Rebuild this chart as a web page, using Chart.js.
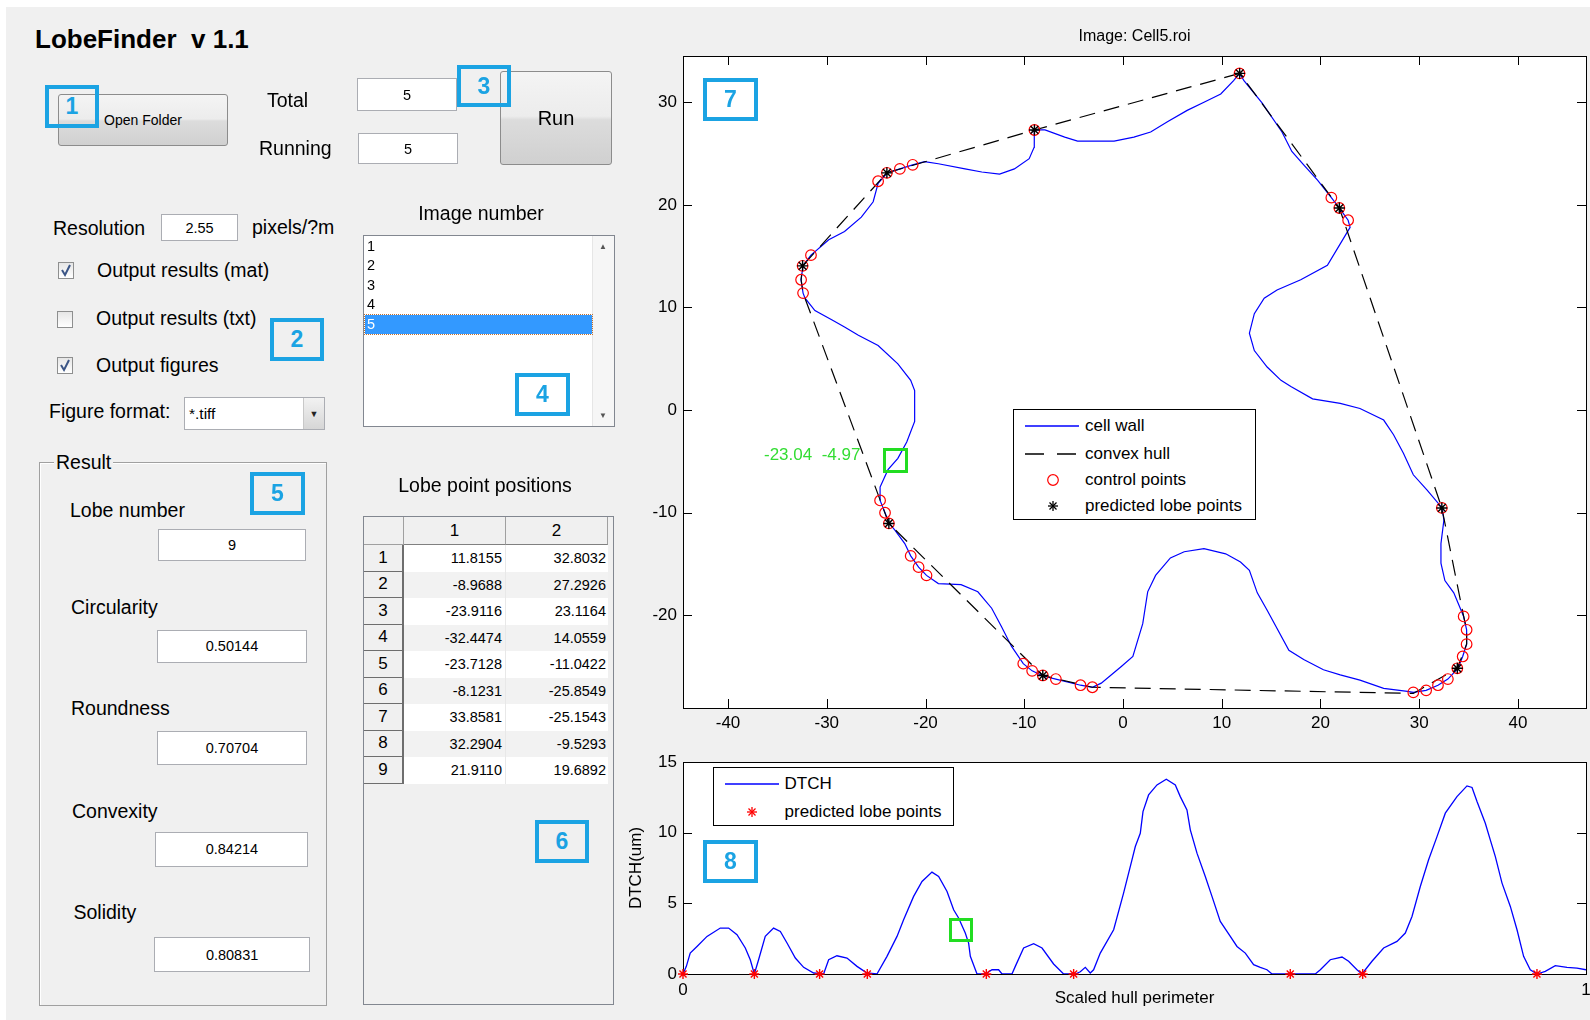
<!DOCTYPE html>
<html><head><meta charset="utf-8">
<script src="https://cdn.jsdelivr.net/npm/chart.js@4.4.1/dist/chart.umd.min.js"></script>
<style>
html,body{margin:0;padding:0;width:1590px;height:1020px;overflow:hidden;background:#fff;font-family:'Liberation Sans',Arial,sans-serif;}
#panel{position:absolute;left:6px;top:7px;width:1584px;height:1013px;background:#f0f0f0;}
.t{position:absolute;white-space:nowrap;font-size:19.5px;line-height:20px;height:20px;color:#000;z-index:3;}
.tc{text-align:center;width:240px;}
.inp{position:absolute;background:#fff;border:1px solid #abadb3;box-sizing:border-box;font-size:14.5px;display:flex;align-items:center;justify-content:center;z-index:3;}
.bx{position:absolute;box-sizing:border-box;border:4px solid #1ba3e3;color:#1ba3e3;font-weight:bold;font-size:23px;display:flex;align-items:center;justify-content:center;z-index:6;}
.cb{position:absolute;width:16px;height:17px;box-sizing:border-box;border:1px solid #8e8f8f;background:linear-gradient(#e6e6e6,#fff);z-index:3;}
.btn{position:absolute;box-sizing:border-box;border:1px solid #8c8c8c;border-radius:3px;background:linear-gradient(#f4f4f4 0%,#ececec 48%,#dcdcdc 52%,#d0d0d0 100%);display:flex;align-items:center;justify-content:center;z-index:3;}
.cv{position:absolute;z-index:1;}
.leg{position:absolute;background:#fff;border:1px solid #000;box-sizing:border-box;z-index:4;}
.leg .lt{position:absolute;font-size:17px;line-height:20px;height:20px;white-space:nowrap;}
.leg svg{position:absolute;}
.grn{position:absolute;box-sizing:border-box;border:3px solid #22dd22;z-index:6;}
.cell{position:absolute;box-sizing:border-box;font-size:14.5px;display:flex;align-items:center;}
</style></head>
<body>
<div id="panel"></div>

<!-- GUI -->
<div class="t" style="left:35px;top:24px;font-size:26px;line-height:30px;height:30px;font-weight:bold;">LobeFinder&nbsp; v 1.1</div>
<div class="btn" style="left:58px;top:94px;width:170px;height:52px;font-size:14px;">Open Folder</div>
<div class="bx" style="left:45px;top:85px;width:54px;height:43px;">1</div>
<div class="t" style="left:267px;top:90px;">Total</div>
<div class="inp" style="left:357px;top:78px;width:100px;height:33px;">5</div>
<div class="t" style="left:259px;top:138px;">Running</div>
<div class="inp" style="left:358px;top:133px;width:100px;height:31px;">5</div>
<div class="bx" style="left:457px;top:65px;width:54px;height:42px;">3</div>
<div class="btn" style="left:500px;top:71px;width:112px;height:94px;font-size:20px;">Run</div>

<div class="t" style="left:53px;top:218px;">Resolution</div>
<div class="inp" style="left:161px;top:214px;width:77px;height:27px;">2.55</div>
<div class="t" style="left:252px;top:217px;">pixels/?m</div>
<div class="cb" style="left:58px;top:262px;"><svg width="14" height="15" style="position:absolute;left:0;top:0"><path d="M3 7 L6 12 L11 2" stroke="#3b5586" stroke-width="2" fill="none"/></svg></div>
<div class="t" style="left:97px;top:260px;">Output results (mat)</div>
<div class="cb" style="left:57px;top:311px;"></div>
<div class="t" style="left:96px;top:308px;">Output results (txt)</div>
<div class="bx" style="left:270px;top:318px;width:54px;height:43px;">2</div>
<div class="cb" style="left:57px;top:357px;"><svg width="14" height="15" style="position:absolute;left:0;top:0"><path d="M3 7 L6 12 L11 2" stroke="#3b5586" stroke-width="2" fill="none"/></svg></div>
<div class="t" style="left:96px;top:355px;">Output figures</div>
<div class="t" style="left:49px;top:401px;">Figure format:</div>
<div class="inp" style="left:184px;top:397px;width:141px;height:33px;justify-content:flex-start;padding-left:4px;font-size:15.5px;">*.tiff
  <div style="position:absolute;right:0;top:0;width:20px;height:31px;background:linear-gradient(#f2f2f2,#d6d6d6);border-left:1px solid #c8c8c8;font-size:9px;display:flex;align-items:center;justify-content:center;color:#222;">&#9660;</div>
</div>

<div class="t tc" style="left:361px;top:203px;">Image number</div>
<div id="listbox" style="position:absolute;left:363px;top:235px;width:252px;height:192px;box-sizing:border-box;border:1px solid #828790;background:#fff;z-index:3;">
  <div style="position:absolute;right:0;top:0;width:21px;height:190px;background:#f6f6f6;border-left:1px solid #e6e6e6;">
    <div style="position:absolute;left:6px;top:6px;font-size:8px;color:#555;">&#9650;</div>
    <div style="position:absolute;left:6px;bottom:6px;font-size:8px;color:#555;">&#9660;</div>
  </div>
</div>
<div class="bx" style="left:515px;top:373px;width:55px;height:43px;">4</div>

<!-- Result group -->
<div style="position:absolute;left:39px;top:462px;width:288px;height:544px;box-sizing:border-box;border:1px solid #a0a0a0;box-shadow:1px 1px 0 #fff inset;z-index:2;"></div>
<div class="t" style="left:54px;top:452px;background:#f0f0f0;padding:0 2px;">Result</div>
<div class="bx" style="left:250px;top:472px;width:55px;height:43px;">5</div>
<div id="results"></div>

<div class="t tc" style="left:365px;top:475px;">Lobe point positions</div>
<div id="tbl" style="position:absolute;left:363px;top:516px;width:251px;height:489px;box-sizing:border-box;border:1px solid #828790;background:#f0f0f0;z-index:3;"></div>
<div class="bx" style="left:535px;top:820px;width:54px;height:43px;">6</div>

<!-- charts -->
<div class="cv" style="left:600px;top:0px;width:1069px;height:740px;"><canvas id="c1"></canvas></div>
<div class="cv" style="left:600px;top:745px;width:1068px;height:275px;"><canvas id="c2"></canvas></div>

<!-- top chart overlays -->
<div class="bx" style="left:703px;top:78px;width:55px;height:43px;">7</div>
<div class="grn" style="left:883px;top:448px;width:25px;height:25px;"></div>
<div style="position:absolute;left:764px;top:445px;font-size:17px;line-height:20px;color:#33dd33;white-space:pre;z-index:6;">-23.04  -4.97</div>
<div class="leg" style="left:1013px;top:409px;width:243px;height:111px;">
  <svg style="left:11px;top:11px" width="54" height="10"><line x1="0" y1="5" x2="54" y2="5" stroke="#0000ff" stroke-width="1.3"/></svg>
  <div class="lt" style="left:71px;top:6px;">cell wall</div>
  <svg style="left:11px;top:38.5px" width="54" height="10"><line x1="0" y1="5" x2="54" y2="5" stroke="#000" stroke-width="1.3" stroke-dasharray="19 13"/></svg>
  <div class="lt" style="left:71px;top:33.5px;">convex hull</div>
  <svg style="left:32px;top:63px" width="14" height="14"><circle cx="7" cy="7" r="5.3" stroke="#ff0000" stroke-width="1.2" fill="none"/></svg>
  <div class="lt" style="left:71px;top:59.5px;">control points</div>
  <svg style="left:32px;top:89px" width="14" height="14"><g stroke="#000" stroke-width="1.3"><line x1="7" y1="2" x2="7" y2="12"/><line x1="2" y1="7" x2="12" y2="7"/><line x1="3.5" y1="3.5" x2="10.5" y2="10.5"/><line x1="10.5" y1="3.5" x2="3.5" y2="10.5"/></g></svg>
  <div class="lt" style="left:71px;top:85.5px;">predicted lobe points</div>
</div>

<!-- bottom chart overlays -->
<div class="bx" style="left:703px;top:840px;width:55px;height:43px;">8</div>
<div class="grn" style="left:949px;top:918px;width:24px;height:24px;"></div>
<div class="leg" style="left:713px;top:767px;width:241px;height:59px;">
  <svg style="left:10.6px;top:11px" width="54" height="10"><line x1="0" y1="5" x2="54" y2="5" stroke="#0000ff" stroke-width="1.3"/></svg>
  <div class="lt" style="left:70.6px;top:6px;">DTCH</div>
  <svg style="left:31px;top:36.7px" width="14" height="14"><g stroke="#ff0000" stroke-width="1.3"><line x1="7" y1="2" x2="7" y2="12"/><line x1="2" y1="7" x2="12" y2="7"/><line x1="3.5" y1="3.5" x2="10.5" y2="10.5"/><line x1="10.5" y1="3.5" x2="3.5" y2="10.5"/></g></svg>
  <div class="lt" style="left:70.6px;top:33.7px;">predicted lobe points</div>
</div>

<script>
// ---------------- data ----------------
const wallX = [11.8,12.25,14.1,16.1,17.1,18.3,19.7,21.1,21.9,22.8,23.0,22.0,20.7,18.0,15.6,14.3,13.3,12.8,13.3,14.6,16.0,17.0,19.2,22.0,24.0,26.4,27.4,28.4,29.4,30.8,32.3,32.5,32.2,32.2,32.6,33.5,34.5,34.8,34.8,34.4,33.9,32.9,31.9,30.7,29.4,28.8,26.4,24.0,22.0,20.3,18.3,16.8,14.6,13.6,12.8,11.9,10.4,8.2,6.2,4.8,3.3,2.5,2.0,1.0,-0.2,-2.2,-3.1,-4.3,-6.8,-8.1,-9.2,-10.1,-11.3,-12.3,-13.3,-14.7,-16.4,-18.7,-19.9,-20.7,-21.5,-22.1,-23.1,-23.7,-24.1,-24.6,-24.6,-23.8,-22.8,-21.9,-21.1,-21.1,-21.5,-22.8,-24.8,-26.8,-28.2,-29.5,-31.2,-32.2,-32.4,-32.6,-32.4,-31.6,-29.8,-28.2,-26.5,-25.3,-24.8,-23.9,-22.6,-21.3,-20.1,-18.7,-16.0,-14.3,-12.5,-11.0,-9.5,-9.0,-9.0,-8.97,-7.9,-5.9,-4.6,-1.9,-0.9,1.1,2.8,4.5,6.5,8.2,9.9,11.2,11.8];
const wallY = [32.8,32.1,29.9,27.1,25.2,23.9,22.4,20.7,19.7,18.5,17.8,16.2,14.1,12.7,11.7,10.9,9.4,7.5,5.8,4.2,2.9,2.3,1.1,0.65,0.16,-0.97,-2.4,-4.2,-6.3,-7.8,-9.5,-10.7,-13.0,-14.9,-16.6,-17.8,-20.1,-21.4,-22.8,-24.0,-25.2,-26.2,-26.8,-27.3,-27.5,-27.4,-27.1,-26.3,-25.8,-25.3,-24.3,-23.4,-19.5,-17.8,-15.6,-14.8,-14.0,-13.5,-13.8,-14.4,-16.1,-17.7,-20.8,-24.0,-25.0,-26.6,-27.0,-26.8,-26.2,-25.9,-25.4,-24.7,-23.0,-21.1,-19.3,-17.7,-17.0,-16.9,-16.1,-15.3,-14.2,-13.0,-11.7,-11.0,-10.0,-8.8,-7.5,-5.8,-4.7,-3.1,-1.1,1.9,2.9,4.5,6.3,7.3,8.1,8.8,9.7,10.9,11.4,12.7,14.1,15.1,16.6,17.4,18.8,20.3,22.1,23.1,23.5,23.9,24.2,24.0,23.5,23.2,23.0,23.5,24.5,25.6,26.9,27.3,27.3,26.6,26.2,26.2,26.2,26.6,27.1,28.1,29.2,30.0,30.8,32.1,32.8];
const hullX = [11.8155,-8.9688,-23.9116,-32.4474,-32.6,-32.4,-23.7128,-8.1231,-3.1,29.4,33.8581,34.8,34.8,34.5,32.2904,21.9110,11.8155];
const hullY = [32.8032,27.2926,23.1164,14.0559,12.7,11.4,-11.0422,-25.8549,-27.0,-27.6,-25.1543,-22.8,-21.4,-20.1,-9.5293,19.6892,32.8032];
const ctrlX = [11.8,-8.97,-24.8,-23.91,-22.6,-21.3,-31.6,-32.45,-32.6,-32.4,-24.6,-24.1,-23.71,-21.5,-20.7,-19.9,-10.1,-9.2,-8.12,-6.8,-4.3,-3.1,29.4,30.7,31.9,32.9,33.86,34.4,34.8,34.8,34.5,32.29,21.1,21.91,22.8];
const ctrlY = [32.8,27.29,22.3,23.12,23.5,23.9,15.1,14.06,12.7,11.4,-8.8,-10.0,-11.04,-14.2,-15.3,-16.1,-24.7,-25.4,-25.85,-26.2,-26.8,-27.0,-27.5,-27.3,-26.8,-26.2,-25.15,-24.0,-22.8,-21.4,-20.1,-9.53,20.7,19.69,18.5];
const lobeX = [11.8155,-8.9688,-23.9116,-32.4474,-23.7128,-8.1231,33.8581,32.2904,21.9110];
const lobeY = [32.8032,27.2926,23.1164,14.0559,-11.0422,-25.8549,-25.1543,-9.5293,19.6892];

const dtchX = [0,0.0037,0.008,0.0155,0.0266,0.0413,0.0505,0.0598,0.069,0.0745,0.079,0.0837,0.0911,0.1003,0.1078,0.1152,0.1244,0.1336,0.1447,0.1557,0.1613,0.1705,0.1816,0.1927,0.2038,0.2148,0.2259,0.237,0.2443,0.2554,0.2647,0.2757,0.2831,0.2924,0.2997,0.3052,0.3126,0.3163,0.3182,0.3256,0.3348,0.3422,0.3495,0.3533,0.3643,0.368,0.3772,0.3883,0.3976,0.4104,0.4215,0.4345,0.44,0.4455,0.451,0.4547,0.4621,0.4769,0.4879,0.4972,0.5009,0.5064,0.5094,0.5156,0.5249,0.5352,0.5452,0.5507,0.5581,0.5618,0.5692,0.5784,0.5858,0.595,0.6061,0.6135,0.6227,0.6319,0.6393,0.6467,0.6523,0.7002,0.7058,0.7168,0.7298,0.7371,0.7464,0.7519,0.763,0.7759,0.7907,0.7999,0.8073,0.8165,0.8257,0.835,0.8442,0.8571,0.8682,0.8738,0.8793,0.8885,0.894,0.8996,0.907,0.9162,0.9236,0.9309,0.9383,0.9457,0.9549,0.966,0.979,0.99,1.0];
const dtchY = [0,0.54,1.48,1.95,2.66,3.25,3.25,2.78,1.84,1.01,0,1.01,2.66,3.25,3.01,2.19,1.13,0.47,0.07,0,1.01,1.29,1.13,0.54,0.07,0,1.25,2.66,3.84,5.49,6.55,7.21,6.9,5.84,4.54,3.96,2.9,2.19,1.25,0,0,0.3,0.3,0,0,0.54,1.84,2.14,1.84,0.71,0,0,0.16,0.47,0.07,0.3,1.48,3.13,5.72,8.08,9.02,9.96,11.49,12.67,13.38,13.78,13.38,12.55,11.61,10.2,8.55,6.9,5.49,3.72,2.66,1.95,1.48,0.66,0.47,0.3,0,0,0.3,1.01,1.2,0.9,0.3,0,0.9,1.84,2.31,2.9,4.07,6.19,8.08,9.72,11.38,12.55,13.31,13.2,12.2,10.67,9.49,8.31,6.43,4.78,3.13,1.25,0.3,0,0.19,0.59,0.47,0.42,0.3];
const dtchLobeX = [0,0.079,0.1513,0.2041,0.3359,0.4326,0.6725,0.7527,0.9457];
const dtchLobeY = [0,0,0,0,0,0,0,0,0];

const xTickValues = [-40,-30,-20,-10,0,10,20,30,40];
const yTickValues = [-20,-10,0,10,20,30];
const dtchXTicks = [0,1];
const dtchYTicks = [0,5,10,15];

const listItems = ['1','2','3','4','5'];
const resultNames = ['Lobe number','Circularity','Roundness','Convexity','Solidity'];
const resultValues = ['9','0.50144','0.70704','0.84214','0.80831'];
const tableHeads = ['1','2'];

// ---------------- GUI pieces ----------------
(function(){
  const lb = document.getElementById('listbox');
  const rowY = [246.7,265.7,285.3,304.7,324.3];
  listItems.forEach((s,i)=>{
    const d = document.createElement('div');
    const sel = i === 4;
    d.style.cssText = 'position:absolute;left:1px;width:227px;height:18.5px;font-size:14.5px;line-height:18.5px;padding-left:2px;box-sizing:border-box;top:'+(rowY[i]-235-1-9.25)+'px;'+(sel?'background:#3399ff;color:#fff;outline:1px dotted #c07030;':'color:#000;');
    d.textContent = s;
    lb.appendChild(d);
  });
  const res = document.getElementById('results');
  const lblY = [510,607,708,811,912], lblX=[70,71,71,72,73.5];
  const boxes = [[158,529,148,31.5],[157,630,150,32.5],[157,731,150,33.5],[155.4,832,153,34.6],[153.8,937,156.6,35]];
  resultNames.forEach((n,i)=>{
    const l = document.createElement('div'); l.className='t'; l.style.left=lblX[i]+'px'; l.style.top=(lblY[i]-10)+'px'; l.textContent=n; res.appendChild(l);
    const b = boxes[i]; const v=document.createElement('div'); v.className='inp';
    v.style.cssText+='left:'+b[0]+'px;top:'+b[1]+'px;width:'+b[2]+'px;height:'+b[3]+'px;'; v.textContent=resultValues[i]; res.appendChild(v);
  });
  const tb = document.getElementById('tbl');
  const colX = [0,40,142], colW=[40,102,102], hdrH=28, rowH=26.5;
  const mk = (x,y,w,h,txt,style)=>{const c=document.createElement('div'); c.className='cell'; c.style.cssText+='left:'+x+'px;top:'+y+'px;width:'+w+'px;height:'+h+'px;'+style; c.textContent=txt; tb.appendChild(c);};
  mk(0,0,40,hdrH,'','background:#f0f0f0;border-right:1px solid #a0a0a0;border-bottom:1px solid #a0a0a0;');
  tableHeads.forEach((h,j)=>mk(colX[j+1],0,colW[j+1],hdrH,h,'background:#f0f0f0;border-right:1px solid #a0a0a0;border-bottom:1px solid #808080;justify-content:center;font-size:17px;'));
  lobeX.forEach((x,i)=>{
    const y = hdrH + i*rowH; const bg = (i%2===1)?'#f2f2f2':'#fff';
    mk(0,y,40,rowH,String(i+1),'background:#f0f0f0;border-right:2px solid #6e6e6e;border-bottom:1px solid #6e6e6e;justify-content:center;font-size:17px;');
    mk(40,y,102,rowH,x.toFixed(4),'background:'+bg+';justify-content:flex-end;padding-right:3px;border-right:1px solid #e8e8e8;');
    mk(142,y,102,rowH,lobeY[i].toFixed(4),'background:'+bg+';justify-content:flex-end;padding-right:2px;');
  });
})();

// ---------------- charts ----------------
Chart.defaults.font.family = "'Liberation Sans', Arial, sans-serif";
Chart.defaults.color = '#000';
const pts = (xs, ys) => xs.map((x,i)=>({x:x, y:ys[i]}));

const matlabBox = {
  id:'matlabBox',
  beforeDraw(chart){
    const {ctx, chartArea:a} = chart;
    ctx.save(); ctx.fillStyle='#fff'; ctx.fillRect(a.left,a.top,a.right-a.left,a.bottom-a.top); ctx.restore();
  },
  beforeDatasetsDraw(chart){
    const {ctx, chartArea:a, scales} = chart;
    const L = 9;
    ctx.save(); ctx.strokeStyle='#000'; ctx.lineWidth=1;
    ctx.strokeRect(Math.round(a.left)+0.5, Math.round(a.top)+0.5, Math.round(a.right-a.left), Math.round(a.bottom-a.top));
    ctx.beginPath();
    scales.x.ticks.forEach(t=>{const p=Math.round(scales.x.getPixelForValue(t.value))+0.5; ctx.moveTo(p,a.bottom); ctx.lineTo(p,a.bottom-L); ctx.moveTo(p,a.top); ctx.lineTo(p,a.top+L);});
    scales.y.ticks.forEach(t=>{const p=Math.round(scales.y.getPixelForValue(t.value))+0.5; ctx.moveTo(a.left,p); ctx.lineTo(a.left+L,p); ctx.moveTo(a.right,p); ctx.lineTo(a.right-L,p);});
    ctx.stroke(); ctx.restore();
  }
};

new Chart(document.getElementById('c1'), {
  type:'scatter',
  data:{datasets:[
    {label:'predicted lobe points', data:pts(lobeX,lobeY), pointStyle:'star', pointRadius:5.5, borderColor:'#000', backgroundColor:'#000', borderWidth:1.4, order:0},
    {label:'control points', data:pts(ctrlX,ctrlY), pointStyle:'circle', pointRadius:5.3, borderColor:'#ff0000', backgroundColor:'rgba(0,0,0,0)', borderWidth:1.2, order:1},
    {label:'convex hull', data:pts(hullX,hullY), showLine:true, borderColor:'#000', borderWidth:1.2, borderDash:[16,9], pointRadius:0, tension:0, order:2},
    {label:'cell wall', data:pts(wallX,wallY), showLine:true, borderColor:'#0000ff', borderWidth:1.2, pointRadius:0, tension:0, order:3}
  ]},
  options:{
    responsive:true, maintainAspectRatio:false, animation:false, events:[],
    layout:{padding:{left:0,right:0,top:0,bottom:0}},
    plugins:{legend:{display:false}, tooltip:{enabled:false},
      title:{display:true, text:'Image: Cell5.roi', color:'#000', font:{size:16, weight:'normal'}, padding:{top:27,bottom:9.8}}},
    scales:{
      x:{type:'linear', min:-44.56, max:46.89, grid:{display:false, drawTicks:false}, border:{display:false},
         ticks:{padding:5, autoSkip:false, maxRotation:0, font:{size:17}, color:'#000'},
         afterBuildTicks:s=>{s.ticks = xTickValues.map(v=>({value:v}));},
         afterFit:s=>{s.height = 32;}},
      y:{type:'linear', min:-29.02, max:34.5, grid:{display:false, drawTicks:false}, border:{display:false},
         ticks:{padding:6, autoSkip:false, font:{size:17}, color:'#000'},
         afterBuildTicks:s=>{s.ticks = yTickValues.map(v=>({value:v}));},
         afterFit:s=>{s.width = 83;}},
      yRight:{type:'linear', position:'right', min:-29.02, max:34.5, display:true, grid:{display:false, drawTicks:false}, border:{display:false},
         ticks:{display:false},
         afterFit:s=>{s.width = 83;}}
    }
  },
  plugins:[matlabBox]
});

new Chart(document.getElementById('c2'), {
  type:'scatter',
  data:{datasets:[
    {label:'predicted lobe points', data:pts(dtchLobeX,dtchLobeY), pointStyle:'star', pointRadius:5, borderColor:'#ff0000', backgroundColor:'#ff0000', borderWidth:1.4, clip:false, order:0},
    {label:'DTCH', data:pts(dtchX,dtchY), showLine:true, borderColor:'#0000ff', borderWidth:1.3, pointRadius:0, tension:0, order:1}
  ]},
  options:{
    responsive:true, maintainAspectRatio:false, animation:false, events:[],
    layout:{padding:{left:0,right:82,top:17,bottom:0}},
    plugins:{legend:{display:false}, tooltip:{enabled:false}},
    scales:{
      x:{type:'linear', min:0, max:1, grid:{display:false, drawTicks:false}, border:{display:false},
         ticks:{padding:6, autoSkip:false, maxRotation:0, font:{size:17}, color:'#000'},
         title:{display:true, text:'Scaled hull perimeter', color:'#000', font:{size:17}, padding:{top:0,bottom:11.5}},
         afterBuildTicks:s=>{s.ticks = dtchXTicks.map(v=>({value:v}));},
         afterFit:s=>{s.height = 46;}},
      y:{type:'linear', min:0, max:15, grid:{display:false, drawTicks:false}, border:{display:false},
         ticks:{padding:6, autoSkip:false, font:{size:17}, color:'#000'},
         title:{display:true, text:'DTCH(um)', color:'#000', font:{size:17}, padding:{top:26.5,bottom:0}},
         afterBuildTicks:s=>{s.ticks = dtchYTicks.map(v=>({value:v}));},
         afterFit:s=>{s.width = 83;}}
    }
  },
  plugins:[matlabBox]
});
</script>
</body></html>
